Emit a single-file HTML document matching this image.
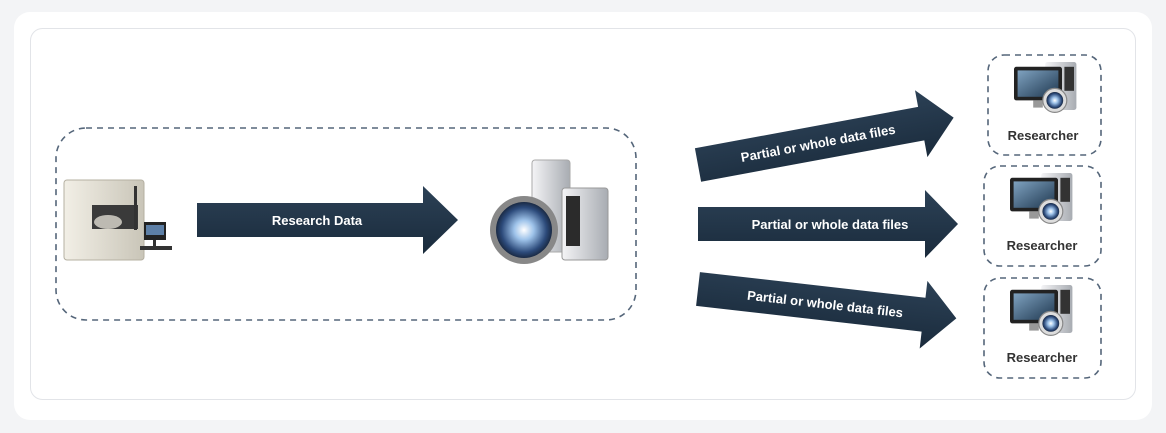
<!DOCTYPE html>
<html><head><style>
body{margin:0;background:#f3f4f6;}
svg{display:block;font-family:"Liberation Sans",sans-serif;}
</style></head><body>
<svg width="1166" height="433" viewBox="0 0 1166 433" xmlns="http://www.w3.org/2000/svg">
<defs>
<linearGradient id="ar" x1="0" y1="0" x2="0" y2="1"><stop offset="0" stop-color="#2c4156"/><stop offset="1" stop-color="#1a2b3c"/></linearGradient>
<linearGradient id="mach" x1="0" y1="0" x2="1" y2="0"><stop offset="0" stop-color="#f2efe6"/><stop offset="1" stop-color="#c9c5b8"/></linearGradient>
<linearGradient id="tw" x1="0" y1="0" x2="1" y2="0"><stop offset="0" stop-color="#f4f4f6"/><stop offset="1" stop-color="#a8acb2"/></linearGradient>
<radialGradient id="orb"><stop offset="0" stop-color="#ffffff"/><stop offset=".35" stop-color="#9ec3ea"/><stop offset=".8" stop-color="#2c4a7a"/><stop offset="1" stop-color="#1a2a44"/></radialGradient>
<linearGradient id="scr" x1="0" y1="0" x2="1" y2="1"><stop offset="0" stop-color="#7fa2c0"/><stop offset="1" stop-color="#1f3850"/></linearGradient>
<g id="arrow"><polygon points="0,-17 227,-17 227,-34 260,0 227,34 227,17 0,17" fill="url(#ar)"/></g>
<g id="pc">
<rect x="26" y="0" width="26" height="40" rx="2" fill="url(#tw)"/>
<rect x="42" y="4" width="8" height="20" fill="#333"/>
<rect x="0" y="4" width="40" height="28" rx="2" fill="#222"/>
<rect x="3" y="7" width="34" height="22" fill="url(#scr)"/>
<rect x="16" y="32" width="8" height="6" fill="#999"/>
<circle cx="34" cy="32" r="10" fill="#ddd" stroke="#888"/>
<circle cx="34" cy="32" r="7" fill="url(#orb)"/>
</g>
</defs>
<rect x="14" y="12" width="1138" height="408" rx="16" fill="#fff"/>
<rect x="30.5" y="28.5" width="1105" height="371" rx="12" fill="#fff" stroke="#e2e4e8"/>
<rect x="56" y="128" width="580" height="192" rx="30" fill="none" stroke="#55667a" stroke-width="1.6" stroke-dasharray="6,5"/>
<!-- machine -->
<rect x="64" y="180" width="80" height="80" rx="3" fill="url(#mach)" stroke="#b5b0a2"/>
<rect x="92" y="205" width="46" height="24" fill="#3a3a3a"/>
<ellipse cx="108" cy="222" rx="14" ry="7" fill="#bdbab2"/>
<rect x="134" y="186" width="3" height="44" fill="#333"/>
<rect x="144" y="222" width="22" height="18" fill="#222"/>
<rect x="146" y="225" width="18" height="10" fill="#5d7fa6"/>
<rect x="140" y="246" width="32" height="4" fill="#333"/>
<rect x="153" y="240" width="3" height="7" fill="#333"/>
<!-- main arrow -->
<g transform="translate(197,220)"><polygon points="0,-17 226,-17 226,-34 261,0 226,34 226,17 0,17" fill="url(#ar)"/></g>
<text x="317" y="225" text-anchor="middle" fill="#fff" font-size="13" font-weight="bold">Research Data</text>
<!-- server cluster -->
<rect x="532" y="160" width="38" height="92" rx="3" fill="url(#tw)" stroke="#aaa"/>
<rect x="562" y="188" width="46" height="72" rx="3" fill="url(#tw)" stroke="#999"/>
<rect x="566" y="196" width="14" height="50" fill="#2b2b2b"/>
<circle cx="524" cy="230" r="34" fill="#888"/>
<circle cx="524" cy="230" r="28" fill="url(#orb)"/>
<!-- right arrows -->
<g transform="translate(698,165) rotate(-10.5)"><use href="#arrow"/><text x="122" y="5" text-anchor="middle" fill="#fff" font-size="13" font-weight="bold">Partial or whole data files</text></g>
<g transform="translate(698,224)"><use href="#arrow"/><text x="132" y="5" text-anchor="middle" fill="#fff" font-size="13" font-weight="bold">Partial or whole data files</text></g>
<g transform="translate(698,289) rotate(6.5)"><use href="#arrow"/><text x="128" y="5" text-anchor="middle" fill="#fff" font-size="13" font-weight="bold">Partial or whole data files</text></g>
<!-- researcher boxes -->
<g fill="none" stroke="#55667a" stroke-width="1.6" stroke-dasharray="6,5">
<rect x="988" y="55" width="113" height="100" rx="16"/>
<rect x="984" y="166" width="117" height="100" rx="16"/>
<rect x="984" y="278" width="117" height="100" rx="16"/>
</g>
<use href="#pc" transform="translate(1014,62) scale(1.2)"/>
<use href="#pc" transform="translate(1010,173) scale(1.2)"/>
<use href="#pc" transform="translate(1010,285) scale(1.2)"/>
<g fill="#333" font-size="13" font-weight="bold" text-anchor="middle">
<text x="1043" y="140">Researcher</text>
<text x="1042" y="250">Researcher</text>
<text x="1042" y="362">Researcher</text>
</g>
</svg>
</body></html>
